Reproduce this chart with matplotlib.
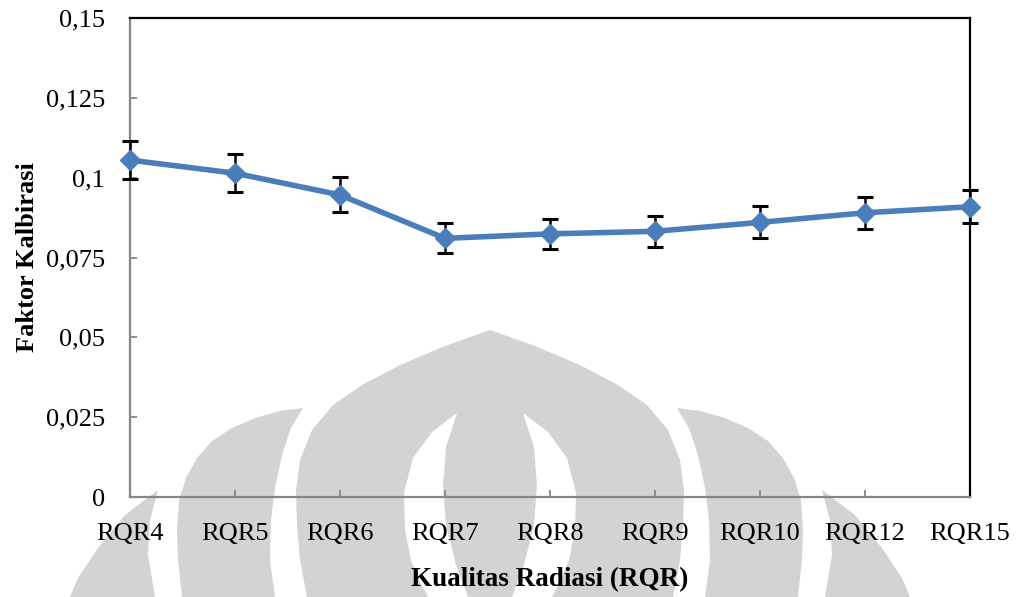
import numpy as np
import matplotlib
matplotlib.use("Agg")
import matplotlib.pyplot as plt
from matplotlib.patches import Polygon
from matplotlib.ticker import FuncFormatter

# kualitas radiasi dan faktor kalibrasi
kualitas = ['RQR4', 'RQR5', 'RQR6', 'RQR7', 'RQR8', 'RQR9', 'RQR10', 'RQR12', 'RQR15']
faktor = [0.1055, 0.1014, 0.0946, 0.0810, 0.0824, 0.0832, 0.0860, 0.0890, 0.0909]
ketidakpastian = [0.0060, 0.0059, 0.0055, 0.0047, 0.0048, 0.0049, 0.0050, 0.0051, 0.0051]
y_ticks = [0, 0.025, 0.05, 0.075, 0.1, 0.125, 0.15]

plt.rcParams['font.family'] = ['Liberation Serif', 'DejaVu Serif']

W, H = 1016, 597
fig = plt.figure(figsize=(W / 100, H / 100), dpi=100)
fig.patch.set_facecolor('white')

# watermark logo di latar belakang (koordinat piksel, y ke bawah)
abu = '#d3d3d3'
cx = 490


def px(pts):
    return [(x / W, 1 - y / H) for x, y in pts]


def mirror(pts):
    return [(2 * cx - x, y) for x, y in pts]


def tambah(pts, warna):
    fig.patches.append(Polygon(px(pts), closed=True, transform=fig.transFigure,
                               facecolor=warna, edgecolor='none', zorder=-2))


kiri = [(490, 330), (445, 346), (400, 365), (362, 385), (333, 405), (312, 430),
        (300, 460), (296, 490), (297, 525), (300, 560), (307, 597)]
tambah(kiri + mirror(kiri)[::-1], abu)

celah = [(457, 413), (432, 432), (413, 458), (404, 493), (405, 530), (411, 560),
         (420, 582), (428, 597), (468, 597), (456, 565), (446, 525), (443, 485),
         (446, 447)]
tambah(celah, 'white')
tambah(mirror(celah), 'white')

kelopak = [(303, 408), (280, 411), (255, 418), (232, 428), (212, 441), (197, 458),
           (186, 478), (179, 500), (177, 530), (178, 560), (182, 597), (275, 597),
           (270, 560), (271, 520), (275, 488), (282, 455), (291, 428)]
tambah(kelopak, abu)
tambah(mirror(kelopak), abu)

ujung = [(158, 490), (150, 520), (148, 555), (155, 597), (70, 597), (78, 578),
         (98, 548), (125, 515)]
tambah(ujung, abu)
tambah(mirror(ujung), abu)

ax = fig.add_axes([130 / W, 1 - 497 / H, 840 / W, 479 / H])
ax.set_facecolor('none')

x = np.arange(len(kualitas))
ax.errorbar(x, faktor, yerr=ketidakpastian, fmt='none', ecolor='black',
            elinewidth=1.8, capsize=6, capthick=2.2, zorder=3, clip_on=False)
ax.plot(x, faktor, color='#4a7ebb', lw=4, marker='D', ms=10.5,
        mfc='#4a7ebb', mec='#4a7ebb', zorder=4, clip_on=False)

ax.set_xlim(0, len(kualitas) - 1)
ax.set_ylim(0, 0.15)
ax.set_xticks(x)
ax.set_xticklabels(kualitas)
ax.set_yticks(y_ticks)
ax.yaxis.set_major_formatter(FuncFormatter(lambda v, p: f'{v:g}'.replace('.', ',')))

ax.tick_params(axis='both', direction='in', labelsize=19, color='#868686',
               width=1.3, length=5)
ax.tick_params(axis='x', pad=19)
ax.tick_params(axis='y', pad=18)

for s in ['left', 'bottom']:
    ax.spines[s].set_color('#868686')
    ax.spines[s].set_linewidth(1.6)
for s in ['top', 'right']:
    ax.spines[s].set_color('black')
    ax.spines[s].set_linewidth(1.6)

ax.set_xlabel('Kualitas Radiasi (RQR)', fontsize=19.5, fontweight='bold', va='center')
ax.xaxis.set_label_coords(0.5, -0.173)
ax.set_ylabel('Faktor Kalbirasi', fontsize=19, fontweight='bold', va='center')
ax.yaxis.set_label_coords(-0.1226, 0.5)

fig.savefig('out.png', dpi=100)
